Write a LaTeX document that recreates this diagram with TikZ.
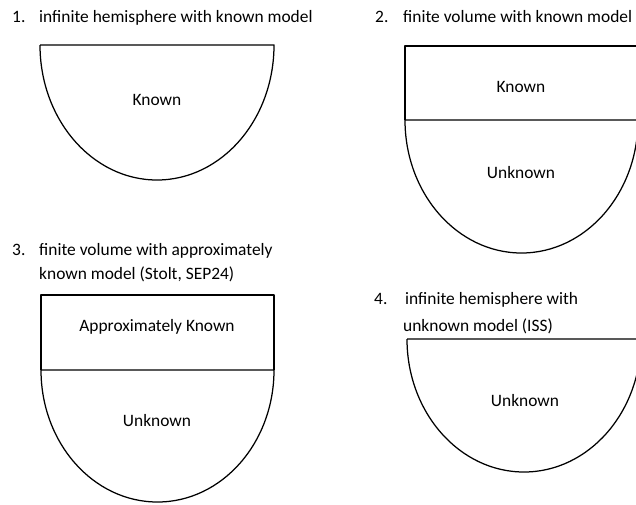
\documentclass[tikz,border=0pt]{standalone}
\usepackage{fontspec}
\setmainfont{Carlito}
\begin{document}
\begin{tikzpicture}[x=1pt,y=-1pt,
  shapeline/.style={line width=1.25pt,black,line join=round},
  lbl/.style={inner sep=0pt,font=\fontsize{17.4}{20}\selectfont},
  ttl/.style={inner sep=0pt,anchor=base west,font=\fontsize{17.4}{20}\selectfont}]
\useasboundingbox (0,0) rectangle (636,504);
\clip (0,0) rectangle (636,504);
% 1
\node[ttl] (n1) at (12,22) {1.};
\node[ttl] (t1) at (39,22) {infinite hemisphere with known model};
\draw[shapeline] (40,45) -- (274,45) arc[start angle=0,end angle=180,x radius=117,y radius=135];
\node[lbl] (k1) at (157,100) {Known};
% 2
\node[ttl] (n2) at (375,22) {2.};
\node[ttl] (t2) at (403,22) {finite volume with known model};
\draw[shapeline] (405,120) -- (405,46) -- (638,46) -- (638,120);
\draw[shapeline] (405,120) -- (638,120) arc[start angle=0,end angle=180,x radius=116.5,y radius=133];
\node[lbl] (k2) at (521,87) {Known};
\node[lbl] (u2) at (521,173) {Unknown};
% 3
\node[ttl] (n3) at (12,255) {3.};
\node[ttl] (t3a) at (39,255) {finite volume with approximately};
\node[ttl] (t3b) at (39,279) {known model (Stolt, SEP24)};
\draw[shapeline] (41,370) -- (41,295) -- (274,295) -- (274,370);
\draw[shapeline] (41,370) -- (274,370) arc[start angle=0,end angle=180,x radius=116.5,y radius=132];
\node[lbl] (a3) at (157,327) {Approximately Known};
\node[lbl] (u3) at (157,421) {Unknown};
% 4
\node[ttl] (n4) at (374,304) {4.};
\node[ttl] (t4a) at (405,304) {infinite hemisphere with};
\node[ttl] (t4b) at (403,331) {unknown model (ISS)};
\draw[shapeline] (407,339) -- (641,339) arc[start angle=0,end angle=180,x radius=117,y radius=133];
\node[lbl] (u4) at (525,401) {Unknown};
\end{tikzpicture}
\end{document}
